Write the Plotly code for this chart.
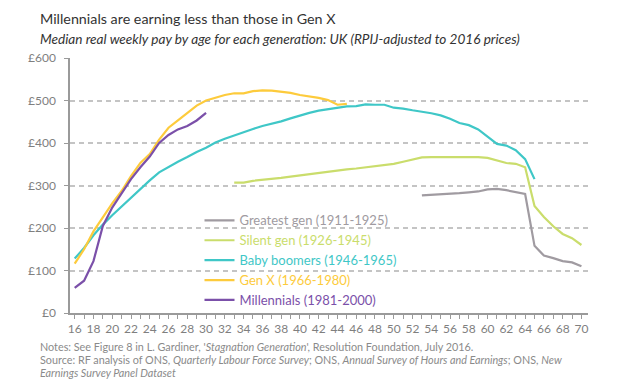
import plotly.graph_objects as go

# ---- data (median real weekly pay, £, by age) ----
ages_greatest = list(range(53, 71))
pay_greatest = [277, 278, 279, 281, 282, 284, 286, 291, 292, 289, 285, 280,
                158, 135, 129, 122, 119, 110]

ages_silent = list(range(33, 71))
pay_silent = [307, 307, 311, 313, 315, 318, 321, 324, 327, 329, 332, 335, 338,
              340, 343, 345, 348, 351, 356, 361, 366, 367, 367, 368, 368, 368,
              367, 365, 359, 353, 351, 343, 252, 226, 204, 186, 176, 160]

ages_boomers = list(range(16, 66))
pay_boomers = [128, 153, 183, 208, 230, 251, 272, 293, 312, 331, 344, 356, 367,
               379, 389, 401, 410, 418, 426, 433, 440, 445, 451, 458, 465, 471,
               476, 479, 483, 486, 487, 491, 490, 490, 483, 481, 477, 474, 470,
               465, 457, 447, 442, 432, 414, 398, 394, 383, 362, 315]

ages_genx = list(range(16, 46))
pay_genx = [116, 150, 192, 226, 258, 287, 322, 353, 374, 408, 436, 453, 471,
            488, 500, 506, 513, 517, 517, 522, 524, 523, 521, 518, 513, 510,
            506, 501, 490, 492]

ages_mill = list(range(16, 31))
pay_mill = [59, 76, 122, 205, 248, 283, 315, 343, 368, 400, 419, 432, 440, 453, 471]

series_names = ["Greatest gen (1911-1925)", "Silent gen (1926-1945)",
                "Baby boomers (1946-1965)", "Gen X (1966-1980)",
                "Millennials (1981-2000)"]
series_colors = ["#a09ba1", "#cadd6c", "#3fc7c7", "#fdcb3c", "#7b50a9"]

x_ticks = list(range(16, 71, 2))
y_ticks = [0, 100, 200, 300, 400, 500, 600]
y_ticktext = ["£0", "£100", "£200", "£300", "£400", "£500", "£600"]

FONT = "Lato"
GREY = "#7f7f7f"

fig = go.Figure()
all_x = [ages_greatest, ages_silent, ages_boomers, ages_genx, ages_mill]
all_y = [pay_greatest, pay_silent, pay_boomers, pay_genx, pay_mill]
for xs, ys, name, col in zip(all_x, all_y, series_names, series_colors):
    fig.add_trace(go.Scatter(
        x=xs, y=ys, mode="lines",
        name=f'<span style="color:{col}">{name}</span>',
        line=dict(color=col, width=2.2),
        hoverinfo="skip",
    ))

fig.update_layout(
    width=622, height=382,
    margin=dict(l=62, r=42, t=50, b=77),
    paper_bgcolor="white", plot_bgcolor="white",
    font=dict(family=FONT, color=GREY, size=12),
    showlegend=True,
    legend=dict(
        x=0.25, y=0.422, xanchor="left", yanchor="top",
        bgcolor="rgba(0,0,0,0)", borderwidth=0,
        font=dict(family=FONT, size=13, color=GREY),
        itemwidth=30, traceorder="normal",
    ),
    xaxis=dict(
        range=[15.5, 70.7], tickmode="array", tickvals=x_ticks,
        ticks="outside", ticklen=4, tickcolor="#9a9a9a", tickwidth=1,
        minor=dict(dtick=1, ticks="outside", ticklen=4, tickcolor="#9a9a9a", tickwidth=1),
        showline=True, linecolor="#9a9a9a", linewidth=1.5,
        showgrid=False, zeroline=False,
        tickfont=dict(family=FONT, size=12, color=GREY),
    ),
    yaxis=dict(
        range=[0, 600], tickmode="array", tickvals=y_ticks, ticktext=y_ticktext,
        ticks="outside", ticklen=4, tickcolor="#9a9a9a",
        showline=True, linecolor="#9a9a9a", linewidth=1.5,
        showgrid=True, gridcolor="#c4c4c4", gridwidth=1.5, griddash="5px,4px",
        zeroline=False, ticklabelstandoff=6,
        tickfont=dict(family=FONT, size=12, color=GREY),
    ),
)

fig.add_annotation(
    xref="paper", yref="paper", x=-0.062, y=1.153, xanchor="left", yanchor="middle",
    text="Millennials are earning less than those in Gen X", showarrow=False,
    font=dict(family=FONT, size=14.3, color="#333333"),
)
fig.add_annotation(
    xref="paper", yref="paper", x=-0.062, y=1.075, xanchor="left", yanchor="middle",
    text="<i>Median real weekly pay by age for each generation: UK (RPIJ-adjusted to 2016 prices)</i>",
    showarrow=False, font=dict(family=FONT, size=13.6, color="#333333"),
)

notes = [
    "Notes: See Figure 8 in L. Gardiner, '<i>Stagnation Generation</i>', Resolution Foundation, July 2016.",
    "Source: RF analysis of ONS, <i>Quarterly Labour Force Survey</i>; ONS, <i>Annual Survey of Hours and Earnings</i>; ONS, <i>New</i>",
    "<i>Earnings Survey Panel Dataset</i>",
]
for i, line in enumerate(notes):
    fig.add_annotation(
        xref="paper", yref="paper", x=-0.062, y=-0.1313 - i * 0.0502,
        xanchor="left", yanchor="middle", text=line, showarrow=False,
        font=dict(family=FONT, size=10.8, color="#8a8a8a"),
    )

fig.write_html("out.html")
